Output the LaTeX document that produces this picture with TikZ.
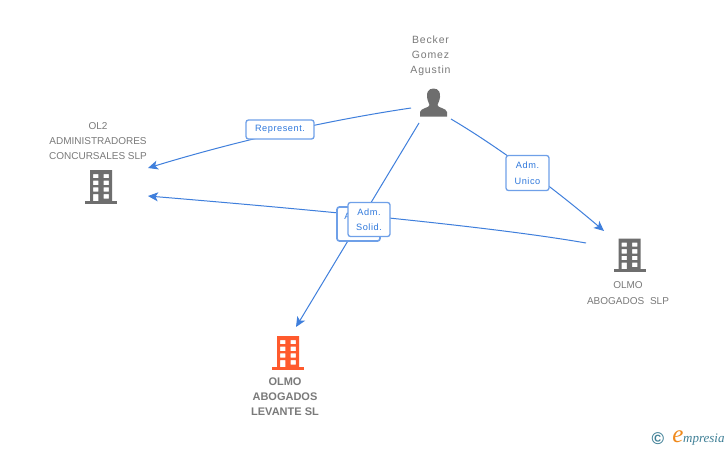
\documentclass[tikz,border=0pt]{standalone}
\usepackage{fontspec}
\setmainfont{Liberation Sans}
\newfontfamily\logofont{Liberation Serif}
\usetikzlibrary{arrows.meta}
\definecolor{linkblue}{HTML}{3F7FDC}
\definecolor{lbltext}{HTML}{2F78DC}
\definecolor{lblborder}{HTML}{6FA0E8}
\definecolor{txtgray}{HTML}{7A7A7A}
\definecolor{icongray}{HTML}{6E6E6E}
\definecolor{iconorange}{HTML}{FF5A2D}
\definecolor{logoteal}{HTML}{3E7F96}
\definecolor{logoorange}{HTML}{F08A1D}
\tikzset{
  x=1pt,y=-1pt,
  link/.style={draw=linkblue,line width=1pt,-{Stealth[length=10pt,width=9pt,inset=2.5pt]}},
  lbl/.style={draw=lblborder,line width=1.3pt,fill=white,rounded corners=2.5pt,text=lbltext,
     font=\addfontfeature{LetterSpace=6}\fontsize{9.2}{15.5}\selectfont,align=center,inner sep=0pt},
  captxt/.style={text=txtgray,font=\fontsize{10}{15.2}\selectfont,align=center,inner sep=0pt},
  nametxt/.style={text=txtgray,font=\addfontfeature{LetterSpace=8}\fontsize{10.5}{15.2}\selectfont,align=center,inner sep=0pt},
  captxtb/.style={text=txtgray,font=\fontsize{11}{15.2}\selectfont\bfseries,align=center,inner sep=0pt},
}
\newcommand{\building}[3]{%
  \begin{scope}[shift={(#1,#2)}]
    \fill[#3] (-16,13.7) rectangle (16,16.7);
    \fill[#3,even odd rule] (-11,-17) rectangle (11,14)
      (-8,-13) rectangle (-2.7,-9) (2.5,-13) rectangle (7.8,-9)
      (-8,-6.3) rectangle (-2.7,-2) (2.5,-6.3) rectangle (7.8,-2)
      (-8,0.3) rectangle (-2.7,4.7) (2.5,0.3) rectangle (7.8,4.7)
      (-8,7) rectangle (-2.7,14) (2.5,7) rectangle (7.8,11.5);
  \end{scope}}
\begin{document}
\begin{tikzpicture}
\useasboundingbox (0,0) rectangle (728,450);
\fill[white] (0,0) rectangle (728,450);

% connector ends
\coordinate (bk1) at (411,108);
\coordinate (bk2) at (419,123);
\coordinate (bk3) at (451,119);
\coordinate (ol2a) at (148,168);
\coordinate (ol2b) at (148,196);
\coordinate (lev) at (296,327);
\coordinate (slpa) at (604,231);
\coordinate (slpb) at (586,243);

% connectors
\draw[link] (bk1) .. controls (330,120) and (240,140) .. (ol2a);
\draw[link] (bk2) -- (lev);
\draw[link] (bk3) .. controls (495,145) and (550,185) .. (slpa);
\draw[link] (slpb) .. controls (500,228) and (340,212) .. (ol2b);

% labels
\node[lbl,minimum width=68pt,minimum height=19pt] (rep) at (280,129.5) {Represent.};
\node[lbl,minimum width=43pt,minimum height=35pt] (uni) at (527.5,173) {Adm.\\Unico};
\node[lbl,line width=1.7pt,minimum width=43pt,minimum height=34pt] (sol2) at (358.5,224) {\mbox{Adm.\kern5pt}\\{}};
\node[lbl,minimum width=42pt,minimum height=34pt] (sol1) at (369,219.5) {Adm.\\Solid.};

% icons
\building{101}{187}{icongray}
\building{629.5}{255.5}{icongray}
\building{288}{353}{iconorange}
\fill[icongray] (433.5,88.5) .. controls (428,88.5) and (426.5,93) .. (427,97)
  .. controls (427.5,101) and (429,103) .. (429.5,105)
  .. controls (429.5,108) and (420.5,108) .. (420,112) -- (420,116.5) -- (447,116.5) -- (447,112)
  .. controls (446.5,108) and (437.5,108) .. (437.5,105)
  .. controls (438,103) and (439.5,101) .. (440,97)
  .. controls (440.5,93) and (439,88.5) .. (433.5,88.5) -- cycle;

% captions
\node[nametxt] (bktxt) at (430.5,55.5) {Becker\\Gomez\\Agustin};
\node[captxt] (ol2txt) at (98,141) {OL2\\ADMINISTRADORES\\CONCURSALES SLP};
\node[captxt] (slptxt) at (628,293) {OLMO\\ABOGADOS\hspace{3pt} SLP};
\node[captxtb] (levtxt) at (285,396.5) {OLMO\\ABOGADOS\\LEVANTE SL};

% logo
\node[text=logoteal,font=\bfseries\fontsize{17}{17}\selectfont,inner sep=0pt] (copy) at (658,439) {©};
\node[text=logoorange,font=\logofont\itshape\fontsize{25}{25}\selectfont,inner sep=0pt] (loge) at (678,436.5) {e};
\node[text=logoteal,font=\logofont\itshape\fontsize{13}{13}\selectfont,inner sep=0pt,anchor=west] (logt) at (683,440) {mpresia};
\end{tikzpicture}
\end{document}
